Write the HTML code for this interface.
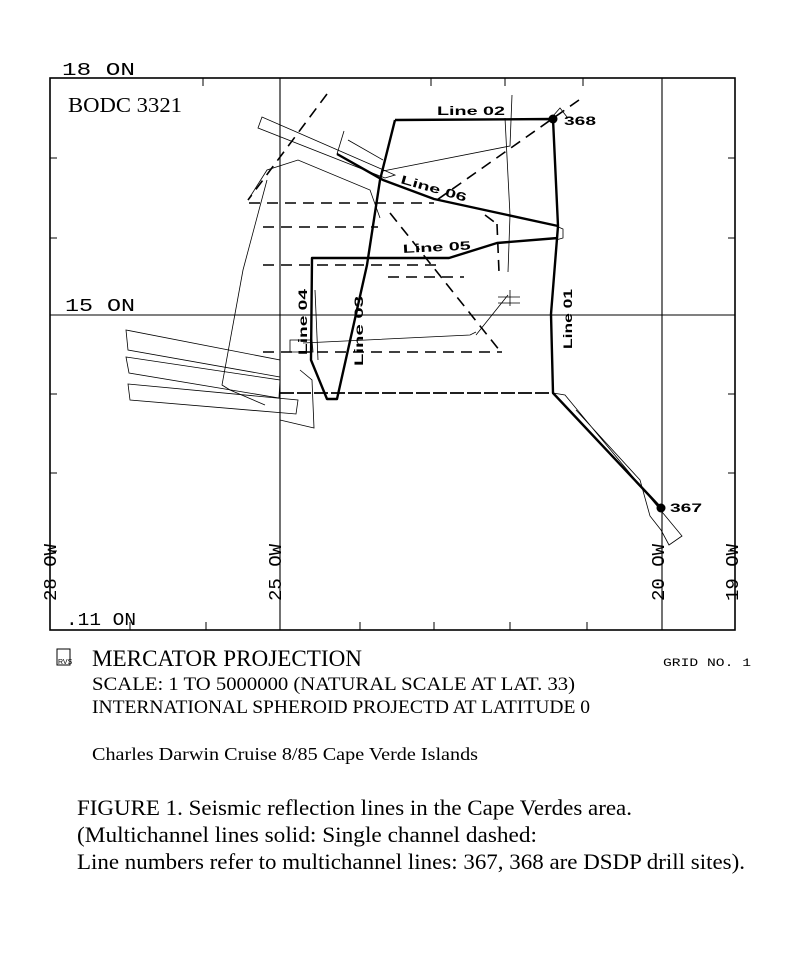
<!DOCTYPE html>
<html><head><meta charset="utf-8"><style>
body{margin:0;background:#fff;width:800px;height:967px;overflow:hidden}
svg{position:absolute;left:0;top:0}
.s{font-family:"Liberation Serif",serif;fill:#000}
.m{font-family:"Liberation Mono",monospace;fill:#000}
.b{font-family:"Liberation Sans",sans-serif;font-weight:bold;fill:#000;font-size:12px}
</style></head><body>
<svg width="800" height="967" viewBox="0 0 800 967">
<g fill="none" stroke="#000">
<rect x="50" y="78" width="685" height="552" stroke-width="1.6"/>
<line x1="280" y1="78" x2="280" y2="630" stroke-width="1.1"/>
<line x1="662" y1="78" x2="662" y2="630" stroke-width="1.1"/>
<line x1="50" y1="315" x2="735" y2="315" stroke-width="1.1"/>
<g stroke-width="1">
<path d="M50 158h7M50 238h7M50 394h7M50 473h7M50 551h7"/>
<path d="M735 158h-7M735 238h-7M735 394h-7M735 473h-7M735 551h-7"/>
<path d="M130 630v-8M206 630v-8M360 630v-8M434 630v-8M510 630v-8M587 630v-8"/>
<path d="M203 78v8M431 78v8M505 78v8M583 78v8"/>
</g>
<g stroke-width="0.8">
<path d="M262 117 L258 128 L385 178 L395 175 Z"/>
<path d="M337 154 L344 131 M383 160 L348 140"/>
<path d="M383 171 L510 146 L512 95"/>
<path d="M505 118 L510 215 L508 272"/>
<path d="M248 200 L267 170 L298 160 L370 190 L380 218"/>
<path d="M267 180 L243 270 L222 385 L230 390 L265 405"/>
<path d="M126 330 L280 360 L280 377 L128 350 Z"/>
<path d="M126 357 L280 380 L279 398 L129 373 Z"/>
<path d="M128 384 L298 400 L296 414 L130 400 Z"/>
<path d="M300 370 L312 380 L314 428 L280 420"/>
<path d="M290 340 L312 340 L313 352 L290 352 Z"/>
<path d="M315 290 L318 360"/>
<path d="M303 343 L470 335 L476 332"/>
<path d="M476 335 L508 295 M498 297h22 M498 303h22 M510 290v16"/>
<path d="M553 393 L565 395 L682 536 L669 545 L661 530 L650 516 L640 480 L576 410"/>
<path d="M556 226 L563 229 L563 238 L556 240"/>
<path d="M553 116 L560 108 L567 117"/>
</g>
<g stroke-width="2.4" stroke-linejoin="round">
<path d="M395 120 L553 119 L558 226 L551 314 L553 393 L661 508"/>
<path d="M395 120 L380 180 L367 265 L337 399 L327 399 L311 360 L312 258 L449 258 L497 243 L558 238"/>
<path d="M337 154 L383 180 L434 199 L558 226"/>
<path d="M280 393 L553 393" stroke-width="1.8" stroke-dasharray="14 3"/>
</g>
<g stroke-width="1.6" stroke-dasharray="11 7">
<path d="M327 94 L248 200"/>
<path d="M579 100 L434 202"/>
<path d="M249 203 L434 203"/>
<path d="M263 227 L378 227"/>
<path d="M263 265 L439 265"/>
<path d="M388 277 L464 277"/>
<path d="M263 352 L502 352"/>
<path d="M390 213 L500 351"/>
<path d="M497 224 L499 272"/>
<path d="M485 215 L497 224"/>
</g>
</g>
<circle cx="553" cy="119" r="4.5" fill="#000"/>
<circle cx="661" cy="508" r="4.5" fill="#000"/>
<text class="b" x="564" y="125" textLength="32" lengthAdjust="spacingAndGlyphs">368</text>
<text class="b" x="670" y="512" textLength="32" lengthAdjust="spacingAndGlyphs">367</text>
<text class="b" x="437" y="115" textLength="68" lengthAdjust="spacingAndGlyphs">Line 02</text>
<text class="b" x="400" y="183" transform="rotate(16 400 183)" textLength="68" lengthAdjust="spacingAndGlyphs">Line 06</text>
<text class="b" x="403" y="253" transform="rotate(-3 403 253)" textLength="68" lengthAdjust="spacingAndGlyphs">Line 05</text>
<text class="b" transform="translate(572 349) rotate(-90)" textLength="60" lengthAdjust="spacingAndGlyphs">Line 01</text>
<text class="b" transform="translate(363 366) rotate(-90)" textLength="70" lengthAdjust="spacingAndGlyphs">Line 03</text>
<text class="b" transform="translate(307 355) rotate(-90)" textLength="66" lengthAdjust="spacingAndGlyphs">Line 04</text>
<g class="m" font-size="18">
<text x="62" y="75" textLength="73" lengthAdjust="spacingAndGlyphs">18  ON</text>
<text x="65" y="311" textLength="70" lengthAdjust="spacingAndGlyphs">15  ON</text>
<text x="66" y="625" textLength="70" lengthAdjust="spacingAndGlyphs">.11  ON</text>
<text transform="translate(56 601) rotate(-90)" textLength="57" lengthAdjust="spacingAndGlyphs">28  OW</text>
<text transform="translate(281 601) rotate(-90)" textLength="57" lengthAdjust="spacingAndGlyphs">25  OW</text>
<text transform="translate(664 601) rotate(-90)" textLength="57" lengthAdjust="spacingAndGlyphs">20  OW</text>
<text transform="translate(738 601) rotate(-90)" textLength="57" lengthAdjust="spacingAndGlyphs">19  OW</text>
</g>
<text class="s" x="68" y="112" font-size="21" textLength="114" lengthAdjust="spacingAndGlyphs">BODC 3321</text>
<rect x="57" y="649" width="13" height="16" fill="none" stroke="#000" stroke-width="1"/>
<text x="58" y="664" font-size="7" font-family="Liberation Sans,sans-serif">RVS</text>
<text class="s" x="92" y="666" font-size="23" textLength="270" lengthAdjust="spacingAndGlyphs">MERCATOR PROJECTION</text>
<text class="s" x="92" y="690" font-size="19" textLength="483" lengthAdjust="spacingAndGlyphs">SCALE: 1 TO 5000000 (NATURAL SCALE AT LAT. 33)</text>
<text class="s" x="92" y="713" font-size="19" textLength="498" lengthAdjust="spacingAndGlyphs">INTERNATIONAL SPHEROID PROJECTD AT LATITUDE 0</text>
<text class="m" x="663" y="666" font-size="11" textLength="88" lengthAdjust="spacingAndGlyphs">GRID NO.  1</text>
<text class="s" x="92" y="760" font-size="18" textLength="386" lengthAdjust="spacingAndGlyphs">Charles Darwin Cruise 8/85 Cape Verde Islands</text>
<text class="s" x="77" y="815" font-size="22" textLength="555" lengthAdjust="spacingAndGlyphs">FIGURE 1. Seismic reflection lines in the Cape Verdes area.</text>
<text class="s" x="77" y="842" font-size="22" textLength="460" lengthAdjust="spacingAndGlyphs">(Multichannel lines solid: Single channel dashed:</text>
<text class="s" x="77" y="869" font-size="22" textLength="668" lengthAdjust="spacingAndGlyphs">Line numbers refer to multichannel lines: 367, 368 are DSDP drill sites).</text>
</svg>
</body></html>
